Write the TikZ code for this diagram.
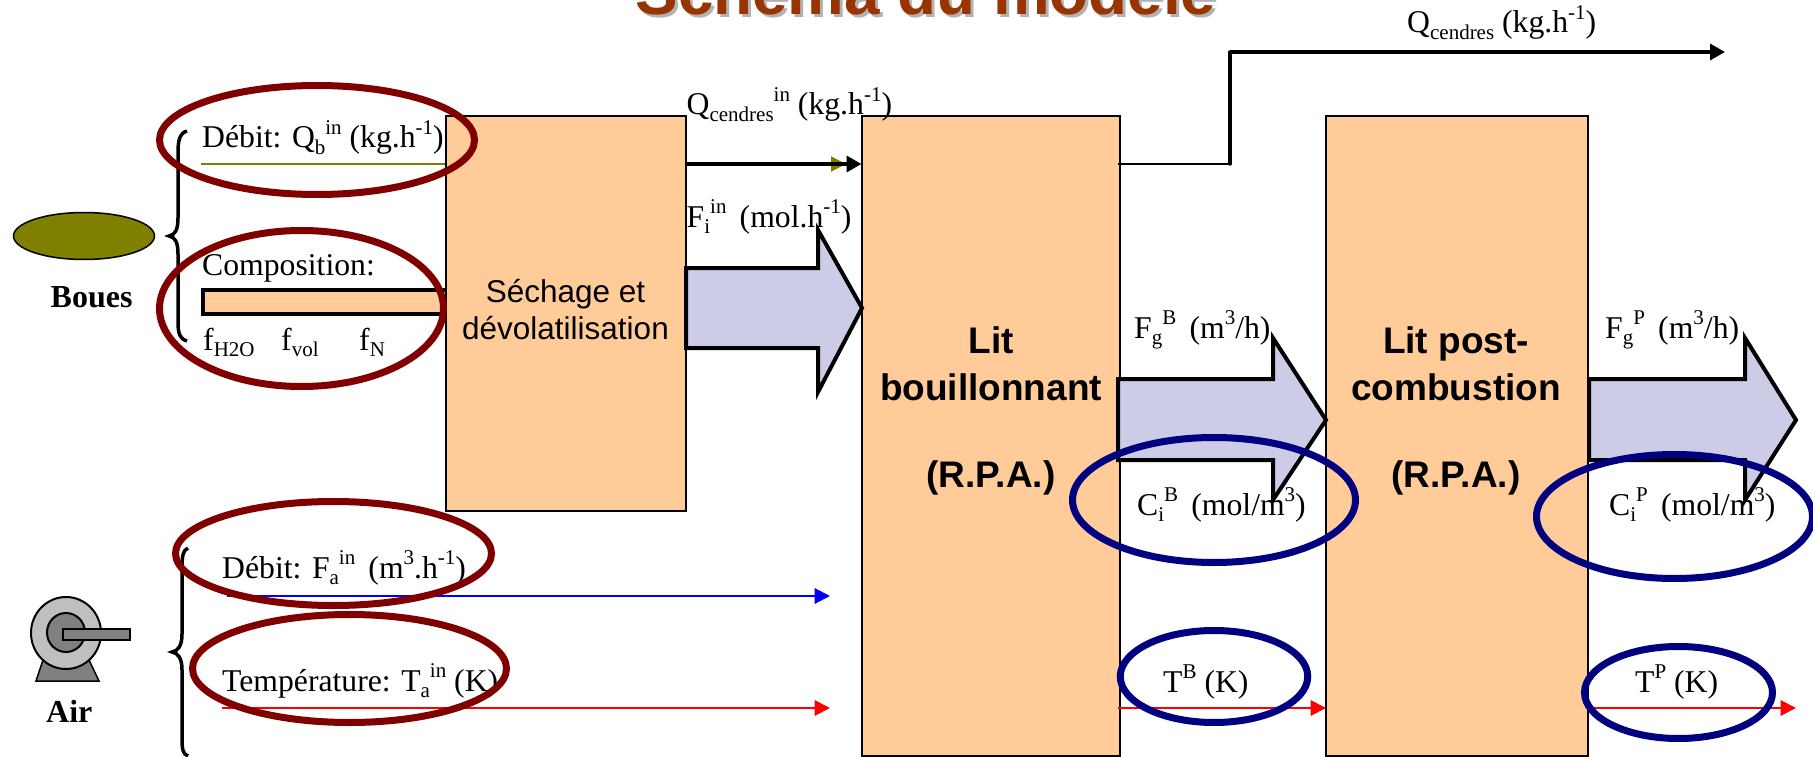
\documentclass[tikz,border=0pt]{standalone}
\usepackage{fontspec}
\setmainfont{Liberation Serif}
\setsansfont{Liberation Sans}
\usetikzlibrary{shapes.geometric,arrows.meta,calc}
\newcommand\lowr[1]{\raisebox{-0.22em}{\fontsize{21}{21}\selectfont #1}}
\newcommand\upr[1]{\raisebox{0.42em}{\fontsize{21}{21}\selectfont #1}}
\definecolor{boxfill}{HTML}{FFCC99}
\definecolor{arrfill}{HTML}{CCCCE6}
\definecolor{ringred}{HTML}{800000}
\definecolor{ringblue}{HTML}{000080}
\definecolor{olive}{HTML}{808000}
\definecolor{titlec}{HTML}{993300}
\tikzset{
  x=1pt,y=-1pt,
  boxst/.style={draw=black,line width=2pt,fill=boxfill,anchor=north west,inner sep=0pt,outer sep=0pt},
  lab/.style={anchor=base west,inner sep=0pt,font=\fontsize{31.7}{36}\selectfont},
  blab/.style={anchor=base west,inner sep=0pt,font=\fontsize{32}{36}\selectfont\bfseries},
  boxtxt/.style={anchor=base,inner sep=0pt,font=\sffamily\fontsize{31.5}{36}\selectfont},
  boxbold/.style={anchor=base,inner sep=0pt,font=\sffamily\bfseries\fontsize{37}{42}\selectfont},
  ringr/.style={ellipse,draw=ringred,line width=7pt,inner sep=0pt},
  ringb/.style={ellipse,draw=ringblue,line width=7pt,inner sep=0pt},
  thinarr/.style={line width=2pt,-{Triangle[length=15.5pt,width=15.5pt]}},
  blackarr/.style={line width=3.5pt,-{Triangle[length=15pt,width=16pt]}},
  blockarr/.style={draw=black,line width=4pt,fill=arrfill,line join=miter},
  bracest/.style={draw=black,line width=3.5pt},
  fanp/.style={draw=black,line width=2pt},
}
\begin{document}
\begin{tikzpicture}
\useasboundingbox (0,0) rectangle (1813,757);
\clip (0,0) rectangle (1813,757);
% title
\node[anchor=base,inner sep=0pt,text=gray!60,font=\sffamily\bfseries\fontsize{63.7}{70}\selectfont] (titleshadow) at (929,18) {Schéma du modèle};
\node[anchor=base,inner sep=0pt,text=titlec,font=\sffamily\bfseries\fontsize{63.7}{70}\selectfont] (title) at (926,15) {Schéma du modèle};
% olive line behind the first box
\coordinate (oliveA) at (201,164);
\coordinate (oliveB) at (846,164);
\draw[line width=2pt,draw=olive,-{Triangle[length=15pt,width=15pt]}] (oliveA) -- (oliveB);
% composition bar
\node[draw=black,line width=4pt,fill=boxfill,anchor=north west,inner sep=0pt,minimum width=250pt,minimum height=24pt] (bar) at (201,288) {};
% boxes
\node[boxst,minimum width=240.5pt,minimum height=394.7pt] (b1) at (445.5,116) {};
\node[boxst,minimum width=258.3pt,minimum height=639.7pt] (b2) at (861.5,116) {};
\node[boxst,minimum width=262pt,minimum height=639.7pt] (b3) at (1326,116) {};
\node[boxtxt] (t1a) at (565.5,302) {Séchage et};
\node[boxtxt] (t1b) at (565.5,339) {dévolatilisation};
\node[boxbold] (t2a) at (991,353) {Lit};
\node[boxbold] (t2b) at (991,400) {bouillonnant};
\node[boxbold] (t2c) at (991,487) {(R.P.A.)};
\node[boxbold] (t3a) at (1456,353) {Lit post-};
\node[boxbold] (t3b) at (1456,400) {combustion};
\node[boxbold] (t3c) at (1456,487) {(R.P.A.)};
% boues
\node[ellipse,draw=black,line width=1.5pt,fill=olive,minimum width=141pt,minimum height=47pt,inner sep=0pt] (boues) at (84,236) {};
\node[blab] (bouestxt) at (50.5,307) {Boues};
% braces
\draw[bracest] (187,131) .. controls (180,133) and (178,140) .. (178,152) -- (178,218) .. controls (178,230) and (175,235) .. (169,236) .. controls (175,237) and (178,242) .. (178,254) -- (178,322) .. controls (178,334) and (180,339) .. (187,341);
\draw[bracest] (188,548) .. controls (183,550) and (182,556) .. (182,568) -- (182,634) .. controls (182,646) and (178,651) .. (172,652) .. controls (178,653) and (182,658) .. (182,670) -- (182,738) .. controls (182,750) and (183,754) .. (188,756);
% fan
\filldraw[fill=gray,draw=black,line width=1.5pt] (43,660) -- (36,681) -- (99,681) -- (89,660) -- cycle;
\node[ellipse,fanp,fill=gray!50,minimum width=70pt,minimum height=72pt,inner sep=0pt] (wheel) at (66,633) {};
\node[ellipse,fanp,fill=gray,minimum width=38pt,minimum height=39pt,inner sep=0pt] (hub) at (66,632.5) {};
\node[fanp,fill=gray,anchor=north west,minimum width=67pt,minimum height=11pt,inner sep=0pt] (shaft) at (62,628) {};
\node[blab] (airtxt) at (46,722) {Air};
% left labels
\node[lab] (l1) at (202,148) {Débit: Q\lowr{b}\upr{in} (kg.h\upr{-1})};
\node[lab] (l2) at (202,275) {Composition:};
\node[lab] (f1) at (203,350) {f\lowr{H2O}};
\node[lab] (f2) at (281,350) {f\lowr{vol}};
\node[lab] (f3) at (359,350) {f\lowr{N}};
\node[lab] (l3) at (222,578) {Débit: F\lowr{a}\upr{in}\, (m\upr{3}.h\upr{-1})};
\node[lab] (l4) at (222,691) {Température: T\lowr{a}\upr{in} (K)};
% air lines
\coordinate (blueA) at (227,596);
\coordinate (blueB) at (830,596);
\coordinate (redA) at (222,708);
\coordinate (redB) at (830,708);
\draw[thinarr,draw=blue,fill=blue] (blueA) -- (blueB);
\draw[thinarr,draw=red,fill=red] (redA) -- (redB);
% black arrow between b1 and b2
\draw[blackarr] (b1.east |- oliveA) -- (b2.west |- oliveA);
% top labels
\node[lab] (q1) at (686.5,115) {Q\lowr{cendres}\upr{in} (kg.h\upr{-1})};
\node[lab] (fi) at (686.5,227) {F\lowr{i}\upr{in}\, (mol.h\upr{-1})};
% ash outlet
\coordinate (ashA) at (1118,164);
\coordinate (ashB) at (1230,164);
\coordinate (ashC) at (1230,52);
\coordinate (ashD) at (1725,52);
\draw[line width=2pt] (ashA) -- (ashB);
\draw[line width=3.5pt,line cap=round] (ashB) -- (ashC);
\draw[blackarr] (ashC) -- (ashD);
\node[lab] (q2) at (1407,33) {Q\lowr{cendres} (kg.h\upr{-1})};
% block arrows
\draw[blockarr] (686,268) -- (818,268) -- (818,230) -- (862,308) -- (818,392) -- (818,348) -- (686,348) -- cycle;
\draw[blockarr] (1118,379) -- (1273,379) -- (1273,338) -- (1326,420) -- (1273,500) -- (1273,460) -- (1118,460) -- cycle;
\draw[blockarr] (1589,379) -- (1745,379) -- (1745,338) -- (1796,420) -- (1745,500) -- (1745,460) -- (1589,460) -- cycle;
% outlet labels
\node[lab] (fgb) at (1134,338) {F\lowr{g}\upr{B}\, (m\upr{3}/h)};
\node[lab] (fgp) at (1605,338) {F\lowr{g}\upr{P}\, (m\upr{3}/h)};
\node[lab] (cib) at (1137,515) {C\lowr{i}\upr{B}\, (mol/m\upr{3})};
\node[lab] (cip) at (1609,515) {C\lowr{i}\upr{P}\, (mol/m\upr{3})};
\node[lab] (tb) at (1163,692) {T\upr{B} (K)};
\node[lab] (tp) at (1635,692) {T\upr{P} (K)};
% red outlets
\coordinate (r2) at (1118,708);
\coordinate (r3) at (1589,708);
\coordinate (r3end) at (1796,708);
\draw[thinarr,draw=red,fill=red] (r2) -- (b3.west |- r2);
\draw[thinarr,draw=red,fill=red] (r3) -- (r3end);
% rings
\node[ringr,minimum width=315pt,minimum height=109pt] (e1) at (317,140) {};
\node[ringr,minimum width=284pt,minimum height=156pt] (e2) at (301.5,308.5) {};
\node[ringr,minimum width=316pt,minimum height=104pt] (e3) at (333.5,553.5) {};
\node[ringr,minimum width=314pt,minimum height=108pt] (e4) at (349.5,668.5) {};
\node[ringb,minimum width=283pt,minimum height=125pt] (e5) at (1214,500) {};
\node[ringb,minimum width=276pt,minimum height=124pt] (e6) at (1674.5,516.5) {};
\node[ringb,minimum width=187.5pt,minimum height=92pt] (e7) at (1214,676.5) {};
\node[ringb,minimum width=188pt,minimum height=92pt] (e8) at (1678.5,692.5) {};
\end{tikzpicture}
\end{document}
